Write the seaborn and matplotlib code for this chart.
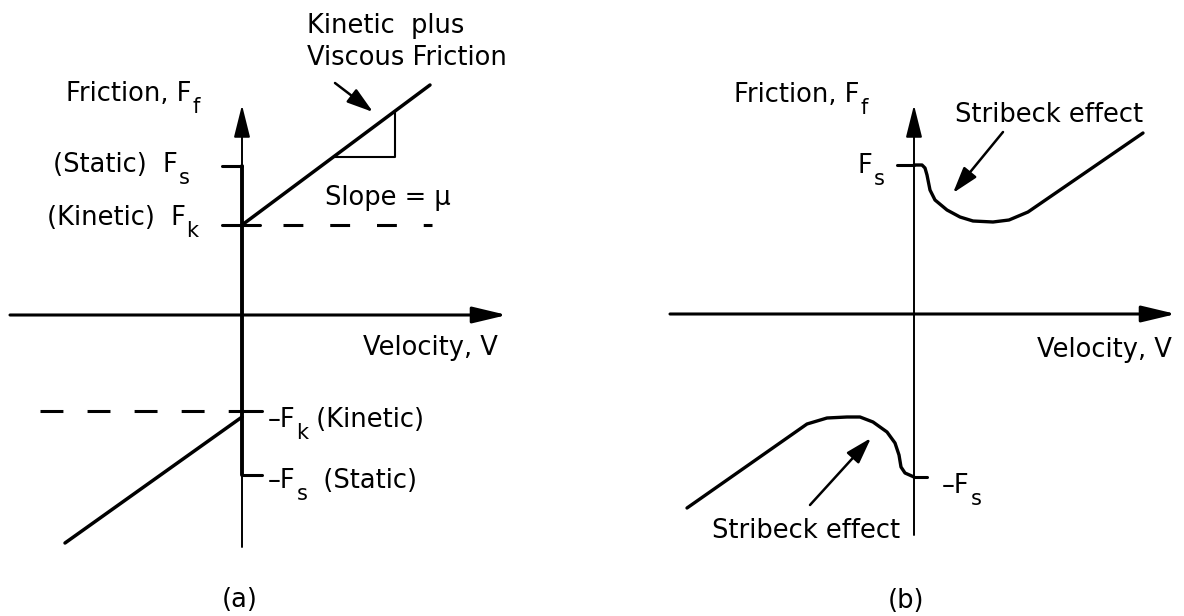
import matplotlib
matplotlib.use("Agg")
import matplotlib.pyplot as plt
import seaborn as sns

# ---------------------------------------------------------------
# Panel (a): static + kinetic (Coulomb) friction plus viscous term
# velocity / friction in drawing units, origin at the axes crossing
# ---------------------------------------------------------------
FS_A = 149          # static friction  F_s
FK_A = 90           # kinetic friction F_k
NEG_FK_A = -96      # -F_k
NEG_FS_A = -160     # -F_s
pos_branch_v = [0, 188]
pos_branch_f = [90, 230]
neg_branch_v = [-177, 0]
neg_branch_f = [-228, -102]
slope_tri_v = [91, 153, 153]
slope_tri_f = [158, 158, 204]

# ---------------------------------------------------------------
# Panel (b): friction with Stribeck effect
# ---------------------------------------------------------------
FS_B = 149
NEG_FS_B = -163
strib_pos_v = [0, 8, 11, 13, 16, 21, 33, 46, 59, 79, 95, 114, 229]
strib_pos_f = [149, 149, 146, 139, 124, 114, 104, 97, 93, 92, 94, 102, 181]
strib_neg_v = [-227, -107, -87, -67, -54, -41, -27, -19, -15, -13, -9, 0]
strib_neg_f = [-194, -110, -104, -103, -103, -108, -118, -129, -141, -153,
               -159, -163]

sns.set_theme(style="white")
plt.rcParams["font.family"] = ["DejaVu Sans"]

FS = 18.5           # label font size
SUB_FS = 15         # subscript font size
SUB_DROP = -7       # subscript drop below the baseline, points
K = "black"

fig = plt.figure(figsize=(11.84, 6.16), dpi=100)
ax_a = fig.add_axes([0.0, 0.0, 0.5, 1.0])
ax_b = fig.add_axes([0.5, 0.0, 0.5, 1.0])
ax_a.set_xlim(-242, 350)
ax_a.set_ylim(-301, 315)
ax_b.set_xlim(-322, 270)
ax_b.set_ylim(-302, 314)
for ax in (ax_a, ax_b):
    ax.set_axis_off()


def line(ax, v, f, lw, **kw):
    sns.lineplot(x=v, y=f, ax=ax, color=K, lw=lw, sort=False,
                 estimator=None, legend=False, **kw)


def arrow(ax, tail, tip, lw, hl, hw):
    ax.annotate("", xy=tip, xytext=tail,
                arrowprops=dict(arrowstyle=f"-|>,head_length={hl},head_width={hw}",
                                lw=lw, color=K, shrinkA=0, shrinkB=0,
                                mutation_scale=1))


def label(ax, v, f, *parts):
    """Text made of alternating normal / subscript pieces, left-aligned
    on the baseline at (v, f)."""
    base = ax.text(v, f, parts[0], fontsize=FS, color=K,
                   ha="left", va="baseline")
    prev = base
    for i, piece in enumerate(parts[1:]):
        is_sub = i % 2 == 0
        prev = ax.annotate(piece, xy=(1, 0), xycoords=(prev, base),
                           xytext=(0.5 if is_sub else 0, SUB_DROP if is_sub else 0),
                           textcoords="offset points",
                           fontsize=SUB_FS if is_sub else FS, color=K,
                           ha="left", va="bottom")
    return base


# ---------------- panel (a) ----------------
arrow(ax_a, (0, -232), (0, 210), 1.4, 20, 5)        # friction axis
arrow(ax_a, (-232, 0), (265, 0), 2.2, 21, 5)        # velocity axis
line(ax_a, [0, 0], [FS_A, NEG_FS_A], 2.8)           # sticking at zero velocity
line(ax_a, [-20, 0], [FS_A, FS_A], 2.2)
line(ax_a, [-20, 18], [FK_A, FK_A], 2.2)
line(ax_a, [0, 20], [NEG_FK_A, NEG_FK_A], 2.2)
line(ax_a, [0, 20], [NEG_FS_A, NEG_FS_A], 2.2)
line(ax_a, [41, 190], [FK_A, FK_A], 2.2, linestyle=(0, (6.5, 8.8)))
line(ax_a, [-202, 0], [NEG_FK_A, NEG_FK_A], 2.2, linestyle=(0, (7.5, 7.9)))
line(ax_a, pos_branch_v, pos_branch_f, 2.5)
line(ax_a, neg_branch_v, neg_branch_f, 2.5)
line(ax_a, slope_tri_v, slope_tri_f, 1.5)
arrow(ax_a, (93, 232), (131, 203), 1.8, 16, 5)

label(ax_a, 65, 282, "Kinetic  plus")
label(ax_a, 65, 250, "Viscous Friction")
label(ax_a, -176, 214, "Friction, F", "f")
label(ax_a, -189, 143, "(Static)  F", "s")
label(ax_a, -195, 90, "(Kinetic)  F", "k")
label(ax_a, 83, 110, "Slope = μ")
label(ax_a, 121, -40, "Velocity, V")
label(ax_a, 26, -112, "–F", "k", " (Kinetic)")
label(ax_a, 26, -173, "–F", "s", "  (Static)")
ax_a.text(-2, -285, "(a)", fontsize=FS, color=K, ha="center", va="center")

# ---------------- panel (b) ----------------
arrow(ax_b, (0, -221), (0, 209), 1.4, 20, 5)
arrow(ax_b, (-244, 0), (262, 0), 2.2, 21, 5)
line(ax_b, [-17, 0], [FS_B, FS_B], 2.2)
line(ax_b, [0, 13], [NEG_FS_B, NEG_FS_B], 2.2)
line(ax_b, strib_pos_v, strib_pos_f, 2.4)
line(ax_b, strib_neg_v, strib_neg_f, 2.4)
arrow(ax_b, (89, 182), (39, 121), 1.8, 16, 5)
arrow(ax_b, (-104, -191), (-43, -124), 1.8, 16, 5)

label(ax_b, -180, 212, "Friction, F", "f")
label(ax_b, 41, 192, "Stribeck effect")
label(ax_b, -56, 141, "F", "s")
label(ax_b, 28, -179, "–F", "s")
label(ax_b, -202, -224, "Stribeck effect")
label(ax_b, 123, -43, "Velocity, V")
ax_b.text(-8, -287, "(b)", fontsize=FS, color=K, ha="center", va="center")

fig.savefig("out.png", dpi=100, facecolor="white")
